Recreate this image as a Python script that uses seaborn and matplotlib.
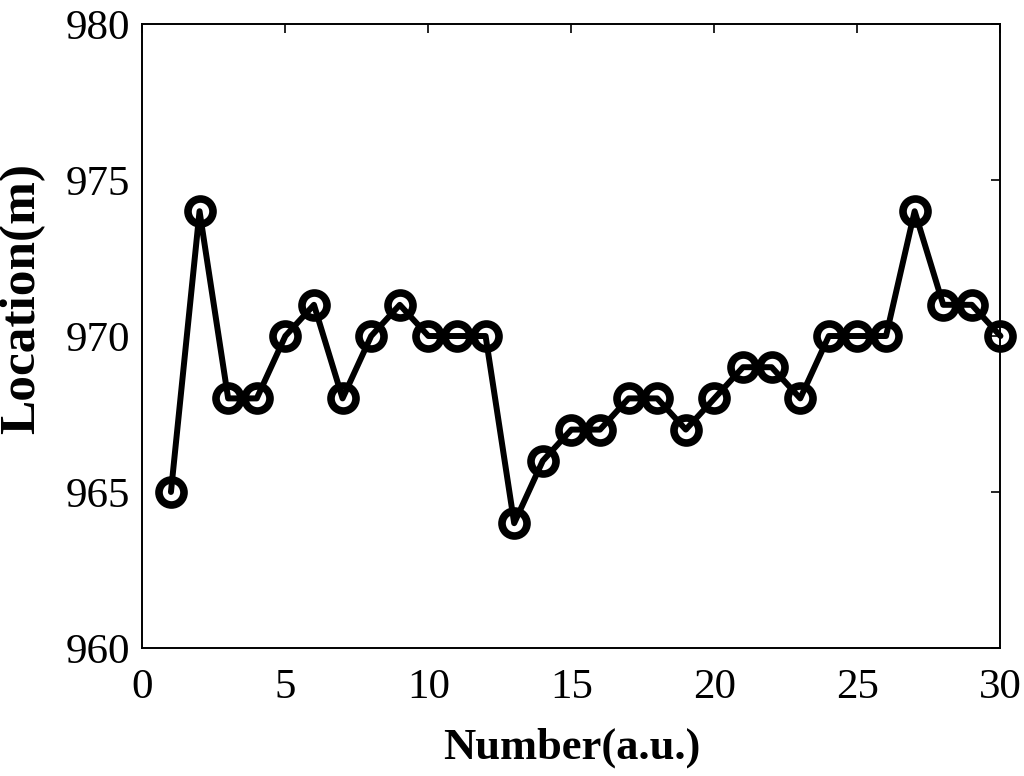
import numpy as np
import pandas as pd
import matplotlib
matplotlib.use("Agg")
import matplotlib.pyplot as plt
import seaborn as sns

# data
number = list(range(1, 31))
location = [965, 974, 968, 968, 970, 971, 968, 970, 971, 970,
            970, 970, 964, 966, 967, 967, 968, 968, 967, 968,
            969, 969, 968, 970, 970, 970, 974, 971, 971, 970]
x_ticks = [0, 5, 10, 15, 20, 25, 30]
y_ticks = [960, 965, 970, 975, 980]

df = pd.DataFrame({"Number": number, "Location": location})

sns.set_style("white")
plt.rcParams['font.family'] = ['Liberation Serif', 'DejaVu Serif']

fig = plt.figure(figsize=(10.24, 7.76), dpi=100)
ax = fig.add_axes([0.139, 0.165, 0.838, 0.804])

sns.lineplot(data=df, x="Number", y="Location", ax=ax, color="black",
             linewidth=4.3, marker="o", markersize=18, markerfacecolor="none",
             markeredgecolor="black", markeredgewidth=5.5, clip_on=False)

ax.set_xlim(0, 30)
ax.set_ylim(960, 980)
ax.set_xticks(x_ticks)
ax.set_yticks(y_ticks)
ax.tick_params(direction="in", length=6.5, width=1.2, labelsize=31,
               top=True, right=True, colors="black")
ax.tick_params(axis="x", pad=15)
ax.tick_params(axis="y", pad=9)
for s in ax.spines.values():
    s.set_color("black")
    s.set_linewidth(1.4)

ax.set_xlabel("Number(a.u.)", fontsize=32, fontweight="bold", color="black")
ax.set_ylabel("Location(m)", fontsize=37, fontweight="bold", color="black")
ax.xaxis.set_label_coords(0.5, -0.127)
ax.yaxis.set_label_coords(-0.113, 0.56)

fig.savefig("out.png", dpi=100)
